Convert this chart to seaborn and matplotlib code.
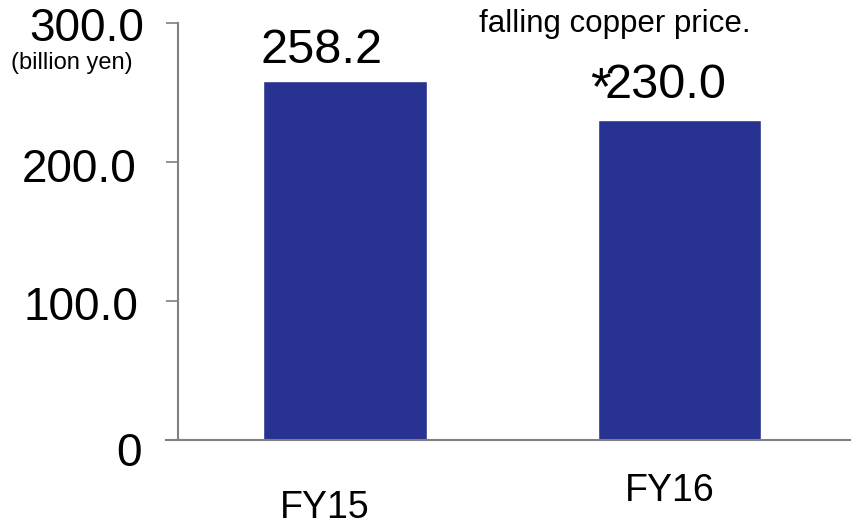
import matplotlib
matplotlib.use('Agg')
import matplotlib.pyplot as plt
import matplotlib.transforms as mtransforms
import pandas as pd
import seaborn as sns

# Data
years = ['FY15', 'FY16']
sales = [258.2, 230.0]
value_labels = ['258.2', '230.0']
ytick_vals = [0, 100, 200, 300]
ytick_labels = ['0', '100.0', '200.0', '300.0']
unit_label = '(billion yen)'
note_line1 = '*Revised downward to reflect the continued'
note_line2 = 'falling copper price.'

df = pd.DataFrame({'year': years, 'sales': sales})

sns.set_style('white')
plt.rcParams['font.family'] = ['Liberation Sans', 'DejaVu Sans']
plt.rcParams['text.color'] = 'black'
plt.rcParams['xtick.color'] = 'black'
plt.rcParams['ytick.color'] = 'black'

fig = plt.figure(figsize=(8.54, 5.25), dpi=100)
ax = fig.add_axes([0.1944, 0.1619, 0.801, 0.794])

sns.barplot(data=df, x='year', y='sales', color='#283291', width=0.49,
            saturation=1, ax=ax)

ax.set_xlim(-0.535, 1.51)
ax.set_ylim(0, 300)
ax.set_xlabel('')
ax.set_ylabel('')

# spines
for s in ['top', 'right']:
    ax.spines[s].set_visible(False)
ax.spines['left'].set_position(('axes', 0.0175))
ax.spines['left'].set_color('#808080')
ax.spines['left'].set_linewidth(1.5)
ax.spines['bottom'].set_color('#808080')
ax.spines['bottom'].set_linewidth(1.5)

ax.set_yticks(ytick_vals)
ax.set_yticklabels(ytick_labels, fontsize=33)
ax.tick_params(axis='y', which='major', left=True, length=9, width=1.2,
               color='#808080', labelcolor='black', pad=17)
ax.tick_params(axis='x', length=0, labelsize=27, labelcolor='black', pad=36)

# nudge labels to match the reference
offsets = [(-0.20, 0.0), (-0.10, 0.17)]
for lab, (dx, dy) in zip(ax.get_xticklabels(), offsets):
    lab.set_transform(lab.get_transform() +
                      mtransforms.ScaledTranslation(dx, dy, fig.dpi_scale_trans))
yoffs = {'0': (0.0, -0.09), '100.0': (-0.04, -0.02),
         '200.0': (-0.05, -0.03), '300.0': (0.02, -0.01)}
for lab in ax.get_yticklabels():
    dx, dy = yoffs.get(lab.get_text(), (0, 0))
    lab.set_transform(lab.get_transform() +
                      mtransforms.ScaledTranslation(dx, dy, fig.dpi_scale_trans))

# value labels above bars
label_offsets = [(-16.5, 6), (-10, 9)]
for i, (v, t) in enumerate(zip(sales, value_labels)):
    ax.annotate(t, xy=(i, v), xytext=label_offsets[i],
                textcoords='offset points', ha='center', va='bottom',
                fontsize=35, color='black')
ax.annotate('*', xy=(1, sales[1]), xytext=(-57, 22), textcoords='offset points',
            ha='center', va='center', fontsize=38, color='black')

fig.text(72 / 854, 1 - 63 / 525, unit_label, fontsize=17,
         ha='center', va='center')
fig.text(615 / 854, 1 - 32 / 525, note_line2, fontsize=22.5,
         ha='center', va='baseline')
# first note line sits mostly above the canvas, as in the source image
fig.text(660 / 854, 1 + 5 / 525, note_line1, fontsize=22.5,
         ha='center', va='baseline')

fig.savefig('out.png', dpi=100)
